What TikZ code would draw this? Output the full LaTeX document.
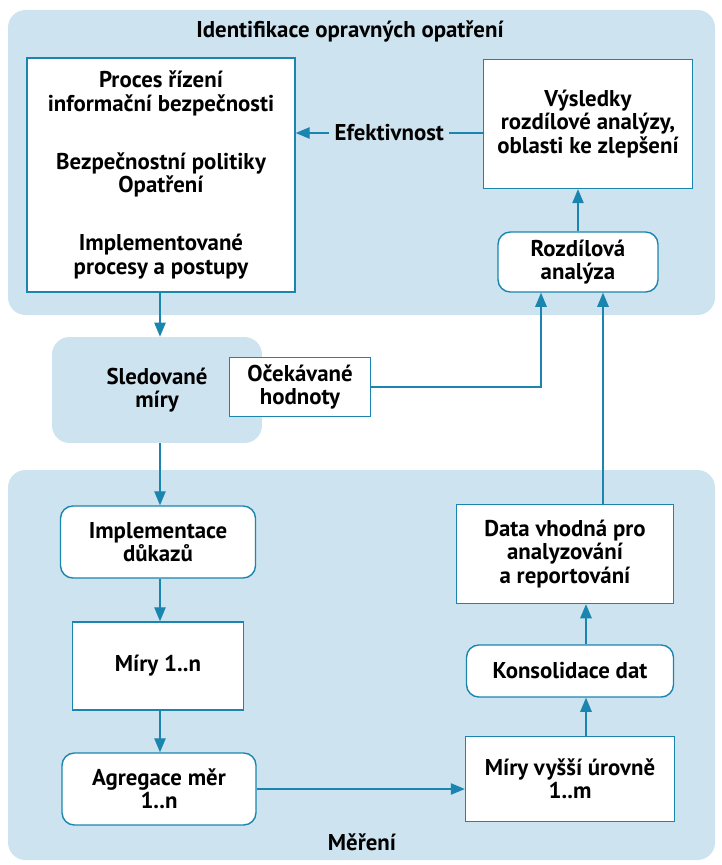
\documentclass[tikz,border=0pt]{standalone}
\usepackage{fontspec}
\setmainfont{PT Sans}
\usetikzlibrary{arrows.meta}

\definecolor{panel}{HTML}{CDE3EF}
\definecolor{edge}{HTML}{1A86B0}

\tikzset{
  box/.style={draw=edge, line width=0.8pt, fill=white, align=center, inner sep=2pt},
  roundbox/.style={box, rounded corners=7pt},
  arr/.style={-{Triangle[length=8pt,width=6.5pt]}, draw=edge, line width=0.8pt},
}

\begin{document}
\begin{tikzpicture}[x=0.02cm, y=-0.02cm, font=\bfseries\fontsize{13}{13.2}\selectfont]
            \useasboundingbox (0,0) rectangle (722,865);

            % Panels
            \fill[panel, rounded corners=10pt] (8,10) rectangle (715,315);
            \fill[panel, rounded corners=10pt] (8,470) rectangle (715,860);
            \node (titletop) at (350,31) {Identifikace opravných opatření};
            \node (titlebottom) at (362,842) {Měření};

            % Upper nodes
            \node[box, minimum width=5.36cm, minimum height=4.68cm] (prozes) at (161,175)
              {Proces řízení\\informační bezpečnosti\\[20pt]Bezpečnostní politiky\\Opatření\\[20pt]Implementované\\procesy a postupy};
            \node[box, minimum width=4.18cm, minimum height=2.58cm] (vysledky) at (588,124)
              {Výsledky\\rozdílové analýzy,\\oblasti ke zlepšení};
            \node[roundbox, minimum width=3.2cm, minimum height=1.2cm] (rozdil) at (578,262)
              {Rozdílová\\analýza};

            % Middle nodes
            \node[fill=panel, rounded corners=10pt, align=center, minimum width=4.2cm, minimum height=2.12cm, text width=2.9cm] (sled) at (157,390)
              {Sledované\\míry};
            \node[box, minimum width=2.82cm, minimum height=1.18cm] (ocek) at (300,387)
              {Očekávané\\hodnoty};

            % Lower nodes
            \node[roundbox, minimum width=3.9cm, minimum height=1.44cm] (impl) at (158,542)
              {Implementace\\důkazů};
            \node[box, minimum width=3.42cm, minimum height=1.76cm] (miry) at (158,666)
              {Míry 1..n};
            \node[roundbox, minimum width=3.88cm, minimum height=1.44cm] (agreg) at (159,789)
              {Agregace měr\\1..n};
            \node[box, minimum width=4.18cm, minimum height=1.7cm] (vyssi) at (570,779)
              {Míry vyšší úrovně\\1..m};
            \node[roundbox, minimum width=4.14cm, minimum height=1.04cm] (konsol) at (570,671)
              {Konsolidace dat};
            \node[box, minimum width=4.34cm, minimum height=1.98cm] (data) at (565,554)
              {Data vhodná pro\\analyzování\\a reportování};

            % Arrows
            \draw[arr] (vysledky.west |- 0,133) -- node[fill=panel, inner sep=3pt] (efekt) {Efektivnost} (prozes.east |- 0,133); % results to process
            \draw[arr] (rozdil.north) -- (rozdil.north |- vysledky.south); % analysis to results
            \draw[arr] (prozes.south -| 160,0) -- (sled.north -| 160,0); % process to measures
            \draw[arr] (ocek.east) -| ([xshift=-0.74cm]rozdil.south); % expected values to analysis
            \draw[arr] ([xshift=0.76cm]data.north) -- ([xshift=0.76cm]data.north |- rozdil.south); % data to analysis
            \draw[arr] (sled.south -| 160,0) -- (impl.north -| 160,0); % measures to evidence
            \draw[arr] (impl.south -| 160,0) -- (miry.north -| 160,0);
            \draw[arr] (miry.south -| 160,0) -- (agreg.north -| 160,0);
            \draw[arr] (agreg.east) -- (agreg.east -| vyssi.west); % aggregation to higher level
            \draw[arr] ([xshift=0.32cm]vyssi.north) -- ([xshift=0.32cm]vyssi.north |- konsol.south);
            \draw[arr] ([xshift=0.32cm]konsol.north) -- ([xshift=0.32cm]konsol.north |- data.south);

        \end{tikzpicture}
\end{document}
